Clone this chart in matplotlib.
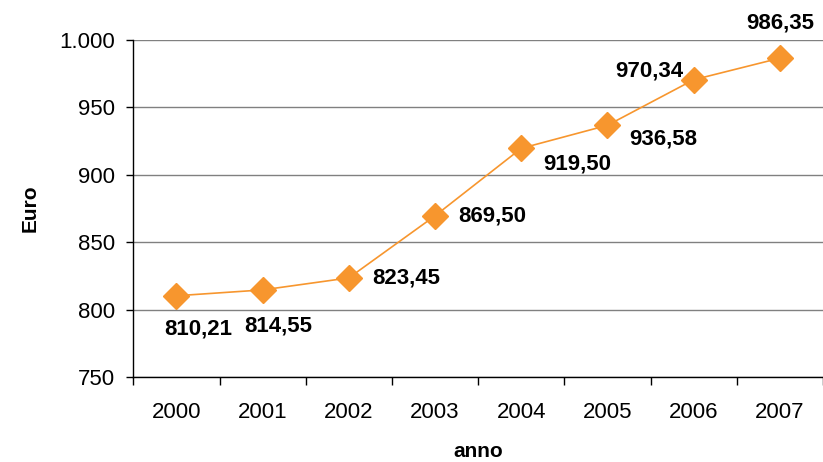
import numpy as np
import matplotlib.pyplot as plt

plt.rcParams['font.family'] = ['Liberation Sans', 'DejaVu Sans']

anni = ['2000', '2001', '2002', '2003', '2004', '2005', '2006', '2007']
euro = [810.21, 814.55, 823.45, 869.50, 919.50, 936.58, 970.34, 986.35]
etichette = ['810,21', '814,55', '823,45', '869,50', '919,50', '936,58', '970,34', '986,35']
# label offsets in points (dx, dy)
offs = [(16, -24), (11, -26), (41, 0), (41, 0), (40, -11), (40, -10), (-32, 6.5), (0, 25)]

fig = plt.figure(figsize=(8.23, 4.62), dpi=100)
ax = fig.add_axes([0.162, 0.184, 0.838, 0.73])

x = np.arange(len(anni))
ax.plot(x, euro, color='#F7962E', lw=1.2, marker='D', markersize=13,
        markerfacecolor='#F7962E', markeredgecolor='#F7962E', clip_on=False, zorder=3)

for xi, yi, t, (dx, dy) in zip(x, euro, etichette, offs):
    ax.annotate(t, (xi, yi), xytext=(dx, dy), textcoords='offset points',
                ha='center', va='center', fontsize=16, fontweight='bold')

ax.set_ylim(750, 1000)
ax.set_yticks([750, 800, 850, 900, 950, 1000])
ax.set_yticklabels(['750', '800', '850', '900', '950', '1.000'])
ax.set_xlim(-0.5, 7.337)
ax.set_xticks(x)
ax.set_xticklabels(anni)
ax.set_xticks(np.arange(-0.5, 8, 1), minor=True)
ax.tick_params(axis='x', which='major', length=0, pad=18, labelsize=16)
ax.tick_params(axis='x', which='minor', length=6, width=1, direction='out')
ax.tick_params(axis='y', length=5, width=1, direction='out', labelsize=16, pad=8)

ax.yaxis.grid(True, color='#808080', lw=1)
ax.set_axisbelow(True)
for s in ['top', 'right']:
    ax.spines[s].set_visible(False)
for s in ['left', 'bottom']:
    ax.spines[s].set_color('black')
    ax.spines[s].set_linewidth(1)

ax.set_xlabel('anno', fontsize=15, fontweight='bold', labelpad=14)
ax.set_ylabel('Euro', fontsize=15, fontweight='bold', labelpad=14)

fig.savefig('out.png', dpi=100)
